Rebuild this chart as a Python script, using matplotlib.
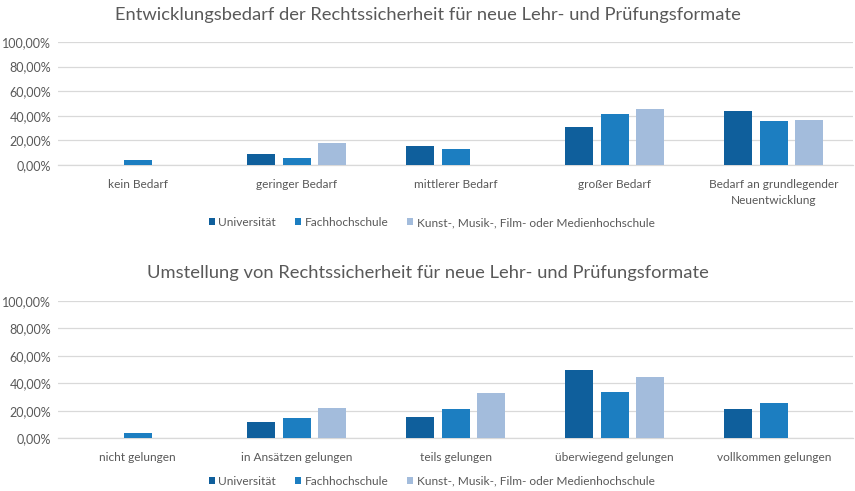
import matplotlib
matplotlib.use("Agg")
import matplotlib.pyplot as plt
import numpy as np
from matplotlib.ticker import FuncFormatter

plt.rcParams["font.family"] = ["Lato", "DejaVu Sans"]

SERIES = ["Universität", "Fachhochschule", "Kunst-, Musik-, Film- oder Medienhochschule"]
COLORS = ["#0F5F9C", "#1C7EC1", "#A3BCDC"]

# Entwicklungsbedarf (Prozent)
bedarf_title = "Entwicklungsbedarf der Rechtssicherheit für neue Lehr- und Prüfungsformate"
bedarf_cats = ["kein Bedarf", "geringer Bedarf", "mittlerer Bedarf", "großer Bedarf",
               "Bedarf an grundlegender\nNeuentwicklung"]
bedarf_uni = [0.0, 9.0, 15.4, 31.0, 43.8]
bedarf_fh = [4.0, 6.0, 12.7, 41.6, 35.4]
bedarf_kunst = [0.0, 18.0, 0.0, 45.2, 36.2]

# Umstellung (Prozent)
umst_title = "Umstellung von Rechtssicherheit für neue Lehr- und Prüfungsformate"
umst_cats = ["nicht gelungen", "in Ansätzen gelungen", "teils gelungen",
             "überwiegend gelungen", "vollkommen gelungen"]
umst_uni = [0.0, 12.1, 15.2, 49.8, 21.5]
umst_fh = [3.9, 14.7, 21.0, 33.9, 25.4]
umst_kunst = [0.0, 22.0, 33.1, 44.3, 0.0]

TEXT = "#595959"
GRID = "#D9D9D9"


def pct(v, _):
    return f"{v:.2f}%".replace(".", ",")


def draw_panel(ax, cats, values, title, title_y, legend_y):
    x = np.arange(len(cats))
    width = 0.176
    step = 0.222
    for i, (vals, color, name) in enumerate(zip(values, COLORS, SERIES)):
        ax.bar(x + (i - 1) * step, vals, width, color=color, label=name, zorder=3)
    ax.set_xlim(-0.5, len(cats) - 0.5)
    ax.set_ylim(0, 100)
    ax.set_yticks(np.arange(0, 101, 20))
    ax.yaxis.set_major_formatter(FuncFormatter(pct))
    ax.grid(axis="y", color=GRID, linewidth=0.9, zorder=0)
    ax.set_xticks(x)
    ax.set_xticklabels(cats, fontsize=8.6, color=TEXT, linespacing=1.55)
    ax.tick_params(axis="x", length=0, pad=10)
    ax.tick_params(axis="y", length=0, pad=5, labelsize=9, labelcolor=TEXT)
    for side in ["top", "right", "left"]:
        ax.spines[side].set_visible(False)
    ax.spines["bottom"].set_color(GRID)
    ax.spines["bottom"].set_linewidth(0.9)
    fig = ax.figure
    fig.text(0.5, title_y, title, ha="center", va="center", fontsize=13.2, color=TEXT)
    ax.legend(loc="center", bbox_to_anchor=(0.505, legend_y), bbox_transform=fig.transFigure,
              ncol=3, frameon=False, fontsize=8.6, labelcolor=TEXT,
              handlelength=0.5, handleheight=0.5, handletextpad=0.3, columnspacing=1.6)


fig = plt.figure(figsize=(8.55, 4.91), dpi=100)
ax1 = fig.add_axes([0.068, 0.664, 0.930, 0.2505])
ax2 = fig.add_axes([0.068, 0.1073, 0.930, 0.2803])

draw_panel(ax1, bedarf_cats, [bedarf_uni, bedarf_fh, bedarf_kunst], bedarf_title, 0.969, 0.547)
draw_panel(ax2, umst_cats, [umst_uni, umst_fh, umst_kunst], umst_title, 0.445, 0.020)

fig.savefig("out.png", dpi=100)
